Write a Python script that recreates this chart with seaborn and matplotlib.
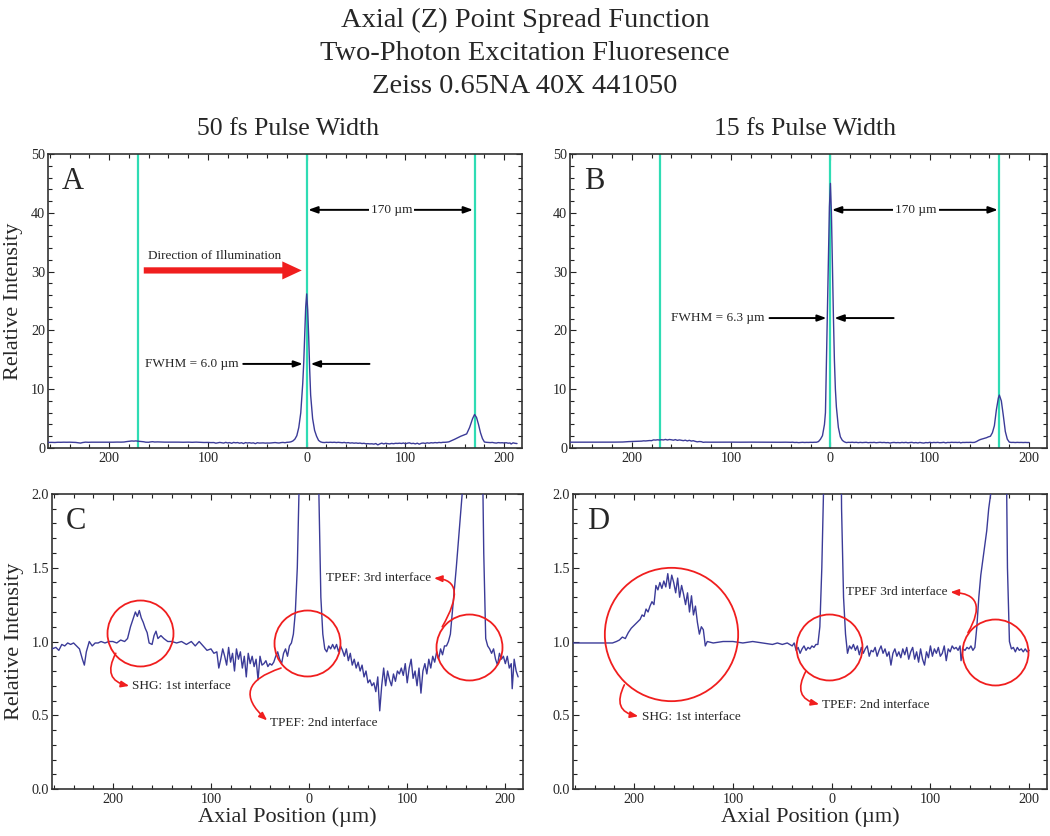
import matplotlib.pyplot as plt
import seaborn as sns
from matplotlib.ticker import MultipleLocator, FuncFormatter

# axial position (um) and relative intensity, 50 fs pulse width (panels A and C)
pos_50fs = [-262, -258, -255, -252, -249, -246, -243, -240, -237, -234, -231, -229, -227, -224,
            -221, -218, -215, -212, -208, -204, -200, -196, -192, -188, -185, -182, -179, -177,
            -175, -173, -171, -169, -167, -165, -163, -160, -158, -156, -154, -151, -148, -144,
            -140, -135, -130, -125, -120, -116, -112, -108, -104, -100, -97, -94, -92, -90, -88,
            -86, -84, -82, -80, -78, -76, -74, -72, -70, -68, -66, -64, -62, -60, -58, -56, -54,
            -52, -50, -48, -46, -44, -42, -40, -38, -36, -34, -32, -30, -28, -26, -24, -22, -20,
            -18, -16, -14, -12, -10, -8, -6, -4, -3, -2, -1, 0, 1, 2, 3, 4, 6, 8, 10, 12, 14, 16,
            18, 20, 22, 24, 26, 28, 30, 32, 34, 36, 38, 40, 42, 44, 46, 48, 50, 52, 54, 56, 58, 60,
            62, 64, 66, 68, 70, 72, 74, 76, 78, 80, 82, 84, 86, 88, 90, 92, 94, 96, 98, 100, 102,
            104, 106, 108, 110, 112, 114, 116, 118, 120, 122, 124, 126, 128, 130, 132, 134, 136,
            138, 140, 142, 144, 146, 148, 150, 153, 156, 159, 162, 165, 168, 170, 172, 174, 176,
            178, 180, 182, 184, 186, 188, 190, 192, 194, 196, 198, 200, 202, 204, 206, 207, 209,
            211, 213]
int_50fs = [0.95, 0.96, 0.94, 0.98, 0.97, 0.99, 0.98, 0.99, 0.97, 0.95, 0.88, 0.84, 0.93, 1.00,
            0.97, 0.99, 0.99, 1.00, 0.99, 1.00, 1.00, 0.99, 1.01, 1.00, 1.02, 1.10, 1.16, 1.20,
            1.17, 1.21, 1.16, 1.13, 1.09, 1.06, 0.99, 0.98, 1.04, 1.07, 1.02, 1.04, 1.02, 1.00,
            1.00, 0.99, 1.00, 0.98, 1.00, 0.97, 1.00, 0.97, 0.94, 0.95, 0.92, 0.93, 0.82, 0.88, 0.95,
            0.90, 0.84, 0.96, 0.86, 0.92, 0.80, 0.95, 0.88, 0.93, 0.82, 0.90, 0.76, 0.92, 0.85, 0.90,
            0.83, 0.88, 0.74, 0.90, 0.84, 0.85, 0.87, 0.83, 0.85, 0.84, 0.86, 0.90, 0.93, 0.88,
            0.85, 0.92, 0.95, 0.90, 0.97, 0.99, 1.05, 1.20, 1.50, 2.10, 3.50, 6.00, 11.0, 14.5,
            19.5, 24.0, 26.2, 23.5, 19.0, 13.5, 9.0, 5.0, 3.0, 2.0, 1.30, 1.05, 0.95, 0.93, 0.97,
            0.95, 0.98, 0.95, 0.98, 0.93, 0.97, 0.94, 0.90, 0.95, 0.87, 0.92, 0.84, 0.88, 0.82,
            0.86, 0.80, 0.84, 0.76, 0.80, 0.72, 0.74, 0.70, 0.72, 0.66, 0.76, 0.53, 0.70, 0.82,
            0.70, 0.80, 0.74, 0.70, 0.78, 0.73, 0.80, 0.78, 0.82, 0.77, 0.85, 0.72, 0.82, 0.88,
            0.75, 0.80, 0.70, 0.82, 0.65, 0.80, 0.85, 0.78, 0.88, 0.82, 0.90, 0.86, 0.93, 0.88,
            0.95, 0.91, 0.97, 0.97, 1.00, 1.05, 1.20, 1.35, 1.50, 1.75, 2.00, 2.20, 2.40, 3.50,
            5.00, 5.70, 5.20, 4.00, 2.60, 1.60, 1.02, 0.97, 0.95, 0.92, 0.95, 0.88, 0.84, 0.92,
            0.88, 0.90, 0.85, 0.90, 0.82, 0.85, 0.68, 0.88, 0.80, 0.76]

# 15 fs pulse width (panels B and D)
pos_15fs = [-262, -250, -240, -230, -222, -218, -215, -212, -209, -206, -203, -200, -197, -194,
            -192, -190, -188, -186, -184, -182, -180, -178, -176, -174, -172, -170, -168, -166,
            -164, -162, -160, -158, -156, -154, -152, -150, -148, -146, -144, -142, -140, -138,
            -136, -134, -132, -130, -128, -126, -120, -110, -100, -90, -80, -70, -60, -55, -50,
            -45, -40, -38, -36, -34, -32, -30, -28, -26, -24, -22, -20, -18, -16, -14, -12, -10,
            -8, -6, -5, -4, -3, -2, -1, 0, 1, 2, 3, 4, 5, 6, 8, 10, 12, 14, 16, 18, 20, 22, 24, 26,
            28, 30, 32, 34, 36, 38, 40, 42, 44, 46, 48, 50, 52, 54, 56, 58, 60, 62, 64, 66, 68, 70,
            72, 74, 76, 78, 80, 82, 84, 86, 88, 90, 92, 94, 96, 98, 100, 102, 104, 106, 108, 110,
            112, 114, 116, 118, 120, 122, 124, 126, 128, 130, 131, 133, 135, 137, 139, 141, 143,
            145, 147, 149, 151, 153, 155, 157, 159, 161, 163, 165, 167, 169, 170, 172, 174, 176,
            178, 180, 182, 184, 186, 188, 190, 192, 194, 196, 198, 200]
int_15fs = [0.99, 0.99, 0.99, 0.99, 0.99, 1.00, 1.01, 1.03, 1.02, 1.06, 1.09, 1.11, 1.13, 1.15,
            1.18, 1.17, 1.22, 1.20, 1.24, 1.27, 1.25, 1.38, 1.35, 1.40, 1.36, 1.41, 1.37, 1.46,
            1.36, 1.45, 1.40, 1.33, 1.43, 1.30, 1.38, 1.32, 1.25, 1.33, 1.20, 1.31, 1.18, 1.24,
            1.13, 1.05, 1.10, 1.08, 0.97, 1.00, 0.99, 1.00, 1.00, 0.99, 1.00, 0.99, 0.98, 0.99, 0.98,
            0.99, 0.97, 0.99, 0.94, 0.96, 0.92, 0.95, 0.97, 0.94, 0.96, 0.95, 0.97, 0.96, 0.98, 0.98,
            1.10, 1.50, 2.10, 4.00, 6.00, 15.0, 23.0, 33.0, 41.0, 45.0, 40.0, 31.0, 22.5, 15.0,
            10.0, 7.0, 3.5, 1.9, 1.30, 1.05, 0.92, 0.97, 0.95, 0.98, 0.94, 0.97, 0.91, 0.96, 0.92,
            0.95, 0.97, 0.90, 0.94, 0.93, 0.96, 0.90, 0.94, 0.97, 0.92, 0.95, 0.90, 0.93, 0.84,
            0.92, 0.95, 0.90, 0.93, 0.89, 0.95, 0.91, 0.96, 0.88, 0.93, 0.96, 0.88, 0.93, 0.86,
            0.95, 0.88, 0.84, 0.93, 0.89, 0.97, 0.90, 0.95, 0.92, 0.96, 0.90, 0.92, 0.97, 0.87,
            0.95, 0.93, 0.97, 0.95, 0.96, 0.94, 0.97, 0.87, 0.95, 0.94, 0.96, 0.95, 0.97, 0.94,
            0.96, 1.10, 1.30, 1.45, 1.55, 1.65, 1.75, 1.90, 2.00, 2.60, 3.80, 6.50, 8.50, 9.0,
            8.00, 5.50, 2.80, 1.50, 1.00, 0.95, 0.96, 0.93, 0.96, 0.94, 0.95, 0.93, 0.95, 0.93,
            0.94]

interfaces = [-171, 0, 170]
column_titles = ["50 fs Pulse Width", "15 fs Pulse Width"]
fwhm_labels = ["FWHM = 6.0 µm", "FWHM = 6.3 µm"]

sns.set_style("ticks")
plt.rcParams["font.family"] = ["Liberation Serif", "DejaVu Serif"]

LINE = "#3b3b98"
GREEN = "#2fdcb4"
RED = "#f01e1e"

fig = plt.figure(figsize=(10.5, 8.36), dpi=100)
axA = fig.add_axes([0.0457, 0.4641, 0.4514, 0.3517])
axB = fig.add_axes([0.5429, 0.4641, 0.4543, 0.3517])
axC = fig.add_axes([0.0495, 0.0562, 0.4486, 0.3529])
axD = fig.add_axes([0.5457, 0.0562, 0.4514, 0.3529])

absfmt = FuncFormatter(lambda v, p: f"{abs(v):.0f}")

for ax, letter in zip([axA, axB, axC, axD], "ABCD"):
    top = ax in (axA, axB)
    xs, ys = (pos_50fs, int_50fs) if ax in (axA, axC) else (pos_15fs, int_15fs)
    if top:
        for xi in interfaces:
            ax.axvline(xi, color=GREEN, lw=1.6, zorder=1)
    sns.lineplot(x=xs, y=ys, ax=ax, color=LINE, linewidth=1.0, zorder=3)
    ax.set_xlim(-262, 218)
    if top:
        ax.set_ylim(0, 50)
        ax.yaxis.set_major_locator(MultipleLocator(10))
        ax.yaxis.set_minor_locator(MultipleLocator(2))
    else:
        ax.set_ylim(0, 2.0)
        ax.yaxis.set_major_locator(MultipleLocator(0.5))
        ax.yaxis.set_minor_locator(MultipleLocator(0.1))
        ax.yaxis.set_major_formatter(FuncFormatter(lambda v, p: f"{v:.1f}"))
    ax.xaxis.set_major_locator(MultipleLocator(100))
    ax.xaxis.set_minor_locator(MultipleLocator(20))
    ax.xaxis.set_major_formatter(absfmt)
    ax.tick_params(which="both", direction="in", top=True, right=True,
                   labelsize=10.2, width=0.8, color="#222222")
    ax.tick_params(which="major", length=4.5, pad=3)
    ax.tick_params(which="minor", length=3)
    ax.tick_params(axis="y", which="major", pad=2)
    for s in ax.spines.values():
        s.set_color("#333333")
        s.set_linewidth(1.2)
    ax.text(0.03, 0.955, letter, transform=ax.transAxes, ha="left", va="top", fontsize=22)

for ax in (axA, axC):
    ax.set_ylabel("Relative Intensity", fontsize=16)
axA.yaxis.set_label_coords(-0.052, 0.5)
axC.yaxis.set_label_coords(-0.060, 0.5)
for ax in (axC, axD):
    ax.set_xlabel("Axial Position (µm)", fontsize=16)
    ax.xaxis.set_label_coords(0.5, -0.062)

black_arrow = dict(arrowstyle="-|>,head_length=0.55,head_width=0.2", color="black", lw=1.4,
                   shrinkA=1, shrinkB=0)

# 170 um spacing and FWHM markers on the top panels
for ax, label, fy, fx in [(axA, fwhm_labels[0], 14.3, -69), (axB, fwhm_labels[1], 22.1, -66)]:
    ax.annotate("", xy=(1.5, 40.5), xytext=(168.5, 40.5),
                arrowprops=dict(arrowstyle="<|-|>,head_length=0.55,head_width=0.2",
                                color="black", lw=1.4, shrinkA=0, shrinkB=0))
    ax.text(86, 40.5, "170 µm", ha="center", va="center", fontsize=9.5, zorder=5,
            bbox=dict(fc="white", ec="none", pad=1.5))
    ax.annotate(label, xy=(-4, fy), xytext=(fx, fy), ha="right", va="center", fontsize=9.5,
                arrowprops=dict(black_arrow, relpos=(1, 0.5)))
    ax.annotate("", xy=(4, fy), xytext=(65, fy), arrowprops=black_arrow)

axA.text(-161, 32.6, "Direction of Illumination", ha="left", va="center", fontsize=9.5)
axA.annotate("", xy=(-5, 30.2), xytext=(-165, 30.2),
             arrowprops=dict(arrowstyle="simple,head_length=1.4,head_width=1.3,tail_width=0.45",
                             mutation_scale=10, color=RED, lw=0, shrinkA=0, shrinkB=0))

# highlight circles and callouts on the zoomed panels
red_arrow = dict(arrowstyle="<|-,head_length=0.5,head_width=0.2", color=RED, lw=1.2,
                 shrinkA=0, shrinkB=0)

circles = [(axC, -172, 1.057, 47.5), (axC, -2.4, 0.99, 47.5), (axC, 163, 0.966, 47.5),
           (axD, -162.6, 1.05, 96), (axD, -2.4, 0.96, 47.5), (axD, 165.7, 0.93, 47.5)]
for ax, cx, cy, d in circles:
    ax.plot(cx, cy, marker="o", ms=d, mfc="none", mec=RED, mew=1.3, zorder=4)

callouts = [
    (axC, "SHG: 1st interface", (-197, 0.92), (-180, 0.695), "left", "arc3,rad=-0.7"),
    (axC, "TPEF: 2nd interface", (-28.6, 0.82), (-39.4, 0.446), "left", "arc3,rad=-0.9"),
    (axC, "TPEF: 3rd interface", (135.7, 1.10), (124, 1.43), "right",
     "angle3,angleA=0,angleB=60"),
    (axD, "SHG: 1st interface", (-210, 0.706), (-192.6, 0.49), "left", "arc3,rad=-0.7"),
    (axD, "TPEF: 2nd interface", (-26, 0.80), (-9.4, 0.57), "left", "arc3,rad=-0.7"),
    (axD, "TPEF 3rd interface", (138, 1.06), (117, 1.335), "right",
     "angle3,angleA=0,angleB=60"),
]
for ax, txt, pt, tpos, ha, conn in callouts:
    rel = (0, 0.5) if ha == "left" else (1, 0.5)
    ax.annotate(txt, xy=pt, xytext=tpos, ha=ha, va="center", fontsize=9.5, zorder=5,
                arrowprops=dict(red_arrow, relpos=rel, connectionstyle=conn))

fig.text(0.5, 0.976, "Axial (Z) Point Spread Function", ha="center", va="center", fontsize=20.5)
fig.text(0.5, 0.9366, "Two-Photon Excitation Fluoresence", ha="center", va="center", fontsize=20.5)
fig.text(0.5, 0.8971, "Zeiss 0.65NA 40X 441050", ha="center", va="center", fontsize=20.5)
fig.text(0.274, 0.8457, column_titles[0], ha="center", va="center", fontsize=18.5)
fig.text(0.767, 0.8457, column_titles[1], ha="center", va="center", fontsize=18.5)

fig.savefig("out.png", dpi=100)
